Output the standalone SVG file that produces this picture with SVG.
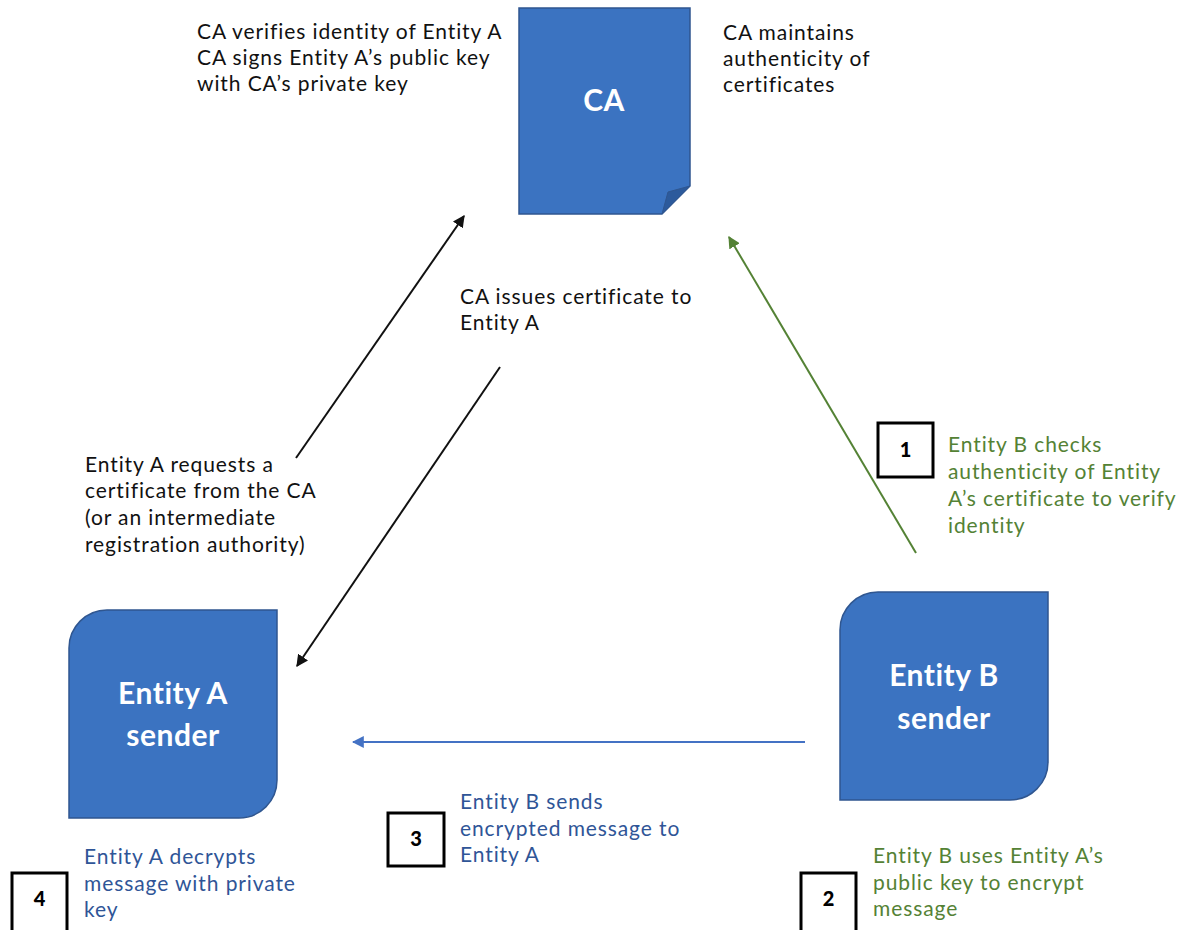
<svg xmlns="http://www.w3.org/2000/svg" width="1188" height="930" viewBox="0 0 1188 930">
  <style>
    .node { fill: #3b73c1; stroke: #2f5690; stroke-width: 1.5; }
    .fold { fill: #2c5a9c; stroke: #2f5690; stroke-width: 1; }
    .ntext { font-family: "Lato", "Liberation Sans", sans-serif; font-weight: bold; fill: #ffffff; text-anchor: middle; letter-spacing: 0.5px; }
    .lbl { font-family: "Lato", "Liberation Sans", sans-serif; font-size: 21px; letter-spacing: 0.9px; }
    .black { fill: #111111; }
    .green { fill: #548235; }
    .blue { fill: #2f5597; }
    .step rect { fill: #ffffff; stroke: #000000; stroke-width: 3; }
    .step text { font-family: "Lato", "Liberation Sans", sans-serif; font-weight: 900; font-size: 20px; text-anchor: middle; fill: #000000; }
    .conn { fill: none; stroke-width: 2; }
  </style>
  <defs>
    <marker id="ahBlack" viewBox="0 0 10 10" refX="9" refY="5" markerWidth="6" markerHeight="6" orient="auto">
      <path d="M0,0 L10,5 L0,10 z" fill="#111111"/>
    </marker>
    <marker id="ahGreen" viewBox="0 0 10 10" refX="9" refY="5" markerWidth="6" markerHeight="6" orient="auto">
      <path d="M0,0 L10,5 L0,10 z" fill="#548235"/>
    </marker>
    <marker id="ahBlue" viewBox="0 0 10 10" refX="9" refY="5" markerWidth="6" markerHeight="6" orient="auto">
      <path d="M0,0 L10,5 L0,10 z" fill="#4472c4"/>
    </marker>
  </defs>

  <rect width="1188" height="930" fill="#ffffff"/>

  <!-- Certificate authority: page with folded corner -->
  <g id="node-ca">
    <path class="node" d="M519,8 H690 V186 L662,214 H519 Z"/>
    <path class="fold" d="M690,186 L662,214 L668,192 Z"/>
    <text class="ntext" x="604" y="111" font-size="30">CA</text>
  </g>

  <!-- Entity A: diagonal rounded corners -->
  <g id="node-entity-a">
    <path class="node" d="M107,610 H277 V780 A38,38 0 0 1 239,818 H69 V648 A38,38 0 0 1 107,610 Z"/>
    <text class="ntext" x="173" y="704" font-size="30">Entity A</text>
    <text class="ntext" x="173" y="746" font-size="30">sender</text>
  </g>

  <!-- Entity B: diagonal rounded corners -->
  <g id="node-entity-b">
    <path class="node" d="M878,592 H1048 V762 A38,38 0 0 1 1010,800 H840 V630 A38,38 0 0 1 878,592 Z"/>
    <text class="ntext" x="944" y="686" font-size="30">Entity B</text>
    <text class="ntext" x="944" y="729" font-size="30">sender</text>
  </g>

  <!-- Connectors -->
  <g id="connectors">
    <line class="conn" stroke="#111111" x1="296" y1="458" x2="464" y2="216" marker-end="url(#ahBlack)"/>
    <line class="conn" stroke="#111111" x1="500" y1="367" x2="297" y2="666" marker-end="url(#ahBlack)"/>
    <line class="conn" stroke="#548235" x1="916" y1="553" x2="729" y2="237" marker-end="url(#ahGreen)"/>
    <line class="conn" stroke="#4472c4" x1="805" y1="742" x2="353" y2="742" marker-end="url(#ahBlue)"/>
  </g>

  <!-- Labels -->
  <g id="label-ca-verifies" class="lbl black">
    <text x="197" y="39">CA verifies identity of Entity A</text>
    <text x="197" y="65">CA signs Entity A’s public key</text>
    <text x="197" y="91">with CA’s private key</text>
  </g>
  <g id="label-ca-maintains" class="lbl black">
    <text x="723" y="40">CA maintains</text>
    <text x="723" y="66">authenticity of</text>
    <text x="723" y="92">certificates</text>
  </g>
  <g id="label-ca-issues" class="lbl black">
    <text x="460" y="304">CA issues certificate to</text>
    <text x="460" y="330">Entity A</text>
  </g>
  <g id="label-a-requests" class="lbl black">
    <text x="85" y="472">Entity A requests a</text>
    <text x="85" y="498">certificate from the CA</text>
    <text x="85" y="525">(or an intermediate</text>
    <text x="85" y="552">registration authority)</text>
  </g>

  <g id="step-1">
    <g class="step"><rect x="878" y="423" width="55" height="54"/><text x="905.5" y="457">1</text></g>
    <g class="lbl green">
      <text x="948" y="452">Entity B checks</text>
      <text x="948" y="479">authenticity of Entity</text>
      <text x="948" y="506">A’s certificate to verify</text>
      <text x="948" y="533">identity</text>
    </g>
  </g>

  <g id="step-2">
    <g class="step"><rect x="801" y="873" width="55" height="60"/><text x="828.5" y="906">2</text></g>
    <g class="lbl green">
      <text x="873" y="863">Entity B uses Entity A’s</text>
      <text x="873" y="890">public key to encrypt</text>
      <text x="873" y="916">message</text>
    </g>
  </g>

  <g id="step-3">
    <g class="step"><rect x="388" y="813" width="56" height="53"/><text x="416" y="846">3</text></g>
    <g class="lbl blue">
      <text x="460" y="809">Entity B sends</text>
      <text x="460" y="836">encrypted message to</text>
      <text x="460" y="862">Entity A</text>
    </g>
  </g>

  <g id="step-4">
    <g class="step"><rect x="12" y="873" width="55" height="60"/><text x="39.5" y="906">4</text></g>
    <g class="lbl blue">
      <text x="84" y="864">Entity A decrypts</text>
      <text x="84" y="891">message with private</text>
      <text x="84" y="917">key</text>
    </g>
  </g>
</svg>
